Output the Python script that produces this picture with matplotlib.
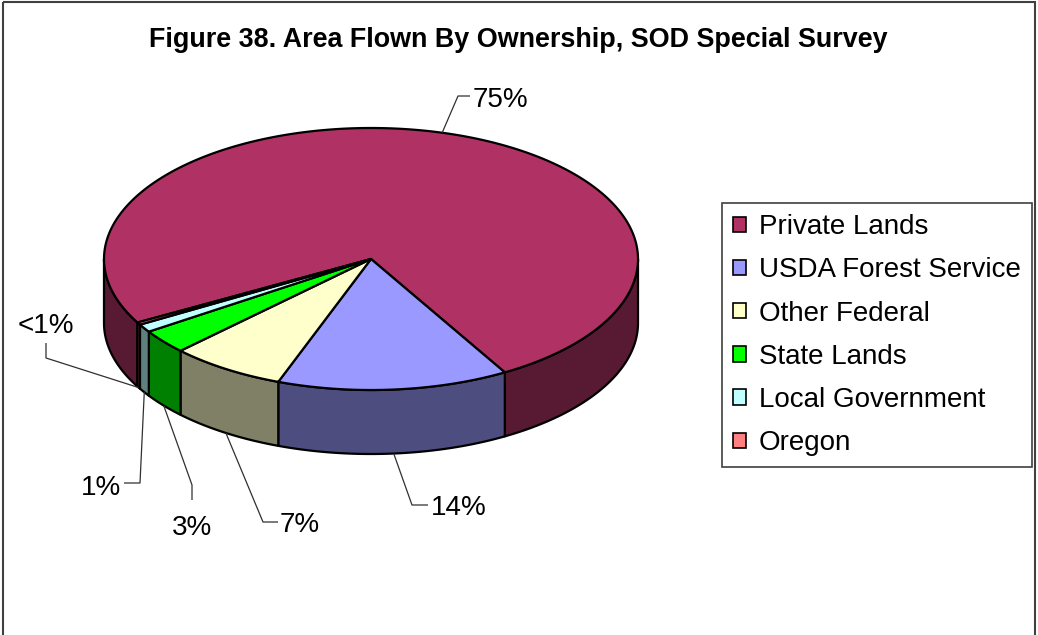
import matplotlib
matplotlib.use('Agg')
import matplotlib.pyplot as plt
import matplotlib.patches as mpatches
import numpy as np

# Ownership shares (percent of area flown)
owners = ['Private Lands', 'USDA Forest Service', 'Other Federal',
          'State Lands', 'Local Government', 'Oregon']
shares = [74.7, 14.0, 7.0, 3.0, 1.0, 0.3]
colors = ['#B03264', '#9999FF', '#FFFFCC', '#00FF00', '#C0FFFF', '#FF8080']

W, H = 1038, 635
fig = plt.figure(figsize=(W / 100, H / 100), dpi=100)
ax = fig.add_axes([0, 0, 1, 1])
ax.set_xlim(0, W)
ax.set_ylim(H, 0)
ax.axis('off')
fig.patch.set_facecolor('white')

# outer chart frame (bottom edge falls outside the canvas)
ax.add_patch(mpatches.Rectangle((3, 2), 1032, 660, fill=False,
                                edgecolor='#404040', lw=1.5))

ax.text(518, 40, 'Figure 38. Area Flown By Ownership, SOD Special Survey',
        fontsize=19.4, fontweight='bold', ha='center', va='center',
        family='Liberation Sans')

# 3-D pie geometry (pixels)
cx, cy, rx, ry, depth = 371, 259, 267, 131, 64
start = 209.0  # degrees, slices run clockwise


def pt(t, dz=0):
    r = np.radians(t)
    return cx + rx * np.cos(r), cy - ry * np.sin(r) + dz


total = sum(shares)
bounds = [start]
for v in shares:
    bounds.append(bounds[-1] - v / total * 360)

# sides first: only the front half of the rim (sin t <= 0) is visible
for i, c in enumerate(colors):
    a0, a1 = bounds[i], bounds[i + 1]
    ts = np.linspace(a0, a1, max(int(abs(a0 - a1) * 4), 4))
    vis = np.sin(np.radians(ts)) <= 1e-9
    runs, cur = [], []
    for t, v in zip(ts, vis):
        if v:
            cur.append(t)
        elif cur:
            runs.append(cur)
            cur = []
    if cur:
        runs.append(cur)
    side = tuple(0.5 * np.array(matplotlib.colors.to_rgb(c)))
    for run in runs:
        top = [pt(t) for t in run]
        bot = [pt(t, depth) for t in run[::-1]]
        ax.add_patch(mpatches.Polygon(top + bot, closed=True, facecolor=side,
                                      edgecolor='black', lw=1.6,
                                      joinstyle='round'))

# top faces
for i, c in enumerate(colors):
    a0, a1 = bounds[i], bounds[i + 1]
    ts = np.linspace(a0, a1, max(int(abs(a0 - a1) * 4), 4))
    poly = [(cx, cy)] + [pt(t) for t in ts]
    ax.add_patch(mpatches.Polygon(poly, closed=True, facecolor=c,
                                  edgecolor='black', lw=1.6,
                                  joinstyle='round'))

# percentage labels with elbow leader lines
# (elbow, line end, text position, ha, va) per slice
layout = [
    ((458, 96), (470, 96), (473, 100), 'left', 'center'),
    ((412, 505), (428, 505), (431, 508), 'left', 'center'),
    ((263, 522), (278, 522), (280, 525), 'left', 'center'),
    ((192, 485), (192, 500), (192, 528), 'center', 'center'),
    ((140, 483), (124, 483), (121, 488), 'right', 'center'),
    ((46, 358), (46, 343), (46, 326), 'center', 'center'),
]
for i, v in enumerate(shares):
    pct = v / total * 100
    lab = '<1%' if pct < 1 else f'{pct:.0f}%'
    mid = (bounds[i] + bounds[i + 1]) / 2
    if np.sin(np.radians(mid)) > 0:
        anchor = pt(mid)
    else:
        anchor = pt(mid, depth)
    elbow, end, tpos, ha, va = layout[i]
    ax.plot([anchor[0], elbow[0], end[0]], [anchor[1], elbow[1], end[1]],
            color='#303030', lw=0.9, solid_capstyle='butt')
    ax.text(tpos[0], tpos[1], lab, fontsize=20, ha=ha, va=va,
            family='Liberation Sans')

handles = [mpatches.Patch(facecolor=c, edgecolor='black', lw=1.2) for c in colors]
leg = ax.legend(handles, owners, loc='upper left',
                bbox_to_anchor=(722, 203), bbox_transform=ax.transData,
                prop={'family': 'Liberation Sans', 'size': 20},
                frameon=True, fancybox=False, framealpha=1,
                edgecolor='#404040', borderpad=0.4, borderaxespad=0,
                handlelength=0.47, handleheight=0.47, handletextpad=0.45,
                labelspacing=0.62)
leg.get_frame().set_linewidth(1.2)

plt.savefig('out.png', dpi=100, facecolor='white')
plt.close()
